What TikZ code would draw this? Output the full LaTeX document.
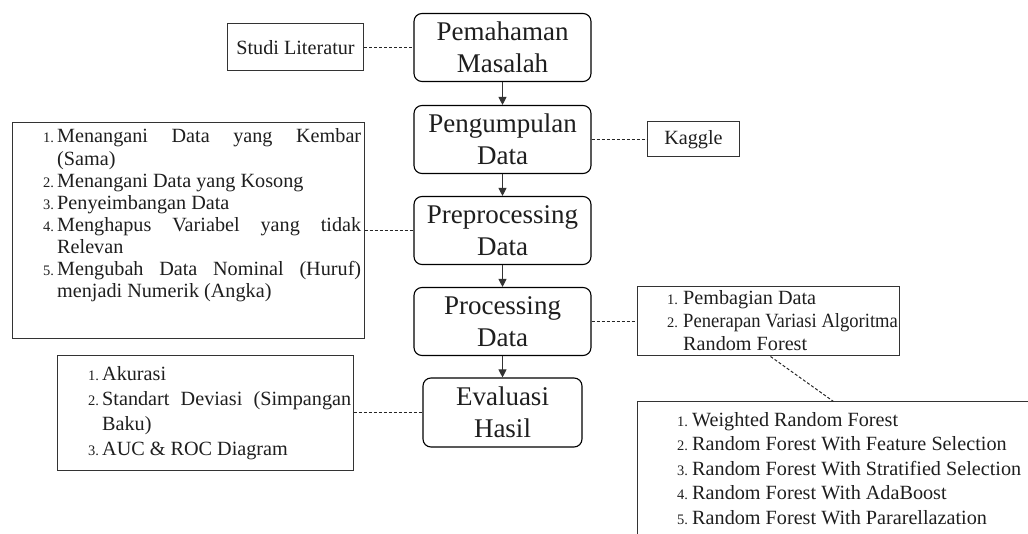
\documentclass[tikz,border=0pt]{standalone}
\usepackage{fontspec}
\setmainfont{Liberation Serif}
\usepackage{graphicx}
\usetikzlibrary{arrows.meta}
\definecolor{txt}{HTML}{1E1E1E}
\definecolor{bord}{HTML}{333333}
\newcommand{\numf}{\fontsize{14.5}{14.5}\selectfont}
\newcommand{\itm}[3]{\noindent\hangindent=#1\hangafter=1\makebox[#1][l]{\numf #2}#3\par}
\newcommand{\lsetup}[1]{\fontsize{20.2}{#1}\selectfont\parindent=0pt\parskip=0pt\hyphenpenalty=10000\exhyphenpenalty=10000\tolerance=10000\hbadness=10000}
\tikzset{
  mainbox/.style={draw=black, line width=1.1pt, rounded corners=8pt, text=txt, align=center,
    font=\fontsize{27}{32}\selectfont, inner sep=0pt},
  sidebox/.style={draw=bord, line width=1pt, text=txt, inner sep=0pt, font=\fontsize{20.2}{22}\selectfont},
  listtext/.style={anchor=base west, inner sep=0pt, text=txt},
  flow/.style={line width=1pt, draw=bord, -{Triangle[width=8pt,length=8pt]}},
  link/.style={line width=1pt, draw=black!85, dash pattern=on 3pt off 2pt}
}
\begin{document}
\begin{tikzpicture}[x=1pt,y=-1pt]
\useasboundingbox (0,0) rectangle (1028,534);
\clip (0,0) rectangle (1028,534);

% main flow
\node[mainbox, minimum width=177pt, minimum height=68pt] (pem) at (502.5,47.5) {Pemahaman\\Masalah};
\node[mainbox, minimum width=177pt, minimum height=68pt] (peng) at (502.5,139.5) {Pengumpulan\\Data};
\node[mainbox, minimum width=177pt, minimum height=68pt] (pre) at (502.5,230.5) {Preprocessing\\Data};
\node[mainbox, minimum width=177pt, minimum height=68pt] (proc) at (502.5,321.5) {Processing\\Data};
\node[mainbox, minimum width=159pt, minimum height=69pt] (eva) at (502.5,412.5) {Evaluasi\\Hasil};

% side boxes
\node[sidebox, minimum width=136pt, minimum height=47pt] (studi) at (295.5,47.5) {Studi Literatur};
\node[sidebox, minimum width=92pt, minimum height=35pt] (kag) at (693.5,139.5) {Kaggle};
\node[sidebox, anchor=north west, minimum width=352pt, minimum height=216pt] (prel) at (11.5,122.5) {};
\node[sidebox, anchor=north west, minimum width=262pt, minimum height=69pt] (procl) at (636.5,286.5) {};
\node[sidebox, anchor=north west, minimum width=296pt, minimum height=114pt] (eval) at (56.5,355.5) {};
\node[sidebox, anchor=north west, minimum width=500pt, minimum height=200pt] (rf) at (636.5,401.5) {};

% list texts
\node[listtext] at (43,143) {\parbox[t]{318pt}{\lsetup{22.1pt}%
\itm{14pt}{1.}{Menangani Data yang Kembar\linebreak (Sama)}
\itm{14pt}{2.}{Menangani Data yang Kosong}
\itm{14pt}{3.}{Penyeimbangan Data}
\itm{14pt}{4.}{Menghapus Variabel yang tidak\linebreak Relevan}
\itm{14pt}{5.}{Mengubah Data Nominal (Huruf)\linebreak menjadi Numerik (Angka)}}};

\node[listtext] at (667,305) {\parbox[t]{240pt}{\lsetup{22.8pt}\raggedright
\itm{16pt}{1.}{Pembagian Data}
\itm{16pt}{2.}{\scalebox{0.92}[1]{Penerapan Variasi Algoritma}\newline Random Forest}}};

\node[listtext] at (88,381) {\parbox[t]{263pt}{\lsetup{25pt}%
\itm{14pt}{1.}{Akurasi}
\itm{14pt}{2.}{Standart Deviasi (Simpangan\linebreak Baku)}
\itm{14pt}{3.}{AUC \& ROC Diagram}}};

\node[listtext] at (677,426) {\parbox[t]{360pt}{\lsetup{24.5pt}\raggedright
\itm{15pt}{1.}{Weighted Random Forest}
\itm{15pt}{2.}{Random Forest With Feature Selection}
\itm{15pt}{3.}{Random Forest With Stratified Selection}
\itm{15pt}{4.}{Random Forest With AdaBoost}
\itm{15pt}{5.}{Random Forest With Pararellazation}}};

% arrows
\draw[flow] (pem) -- (peng);
\draw[flow] (peng) -- (pre);
\draw[flow] (pre) -- (proc);
\draw[flow] (proc) -- (eva);

% dashed links
\draw[link] (studi) -- (pem);
\draw[link] (peng) -- (kag);
\draw[link] (prel.east |- pre.west) -- (pre.west);
\draw[link] (proc.east) -- (proc.east -| procl.west);
\draw[link] (eval.east |- eva.west) -- (eva.west);
\coordinate (d1) at ([xshift=134pt]procl.south west);
\coordinate (d2) at ([xshift=197pt]rf.north west);
\draw[link] (d1) -- (d2);
\end{tikzpicture}
\end{document}
